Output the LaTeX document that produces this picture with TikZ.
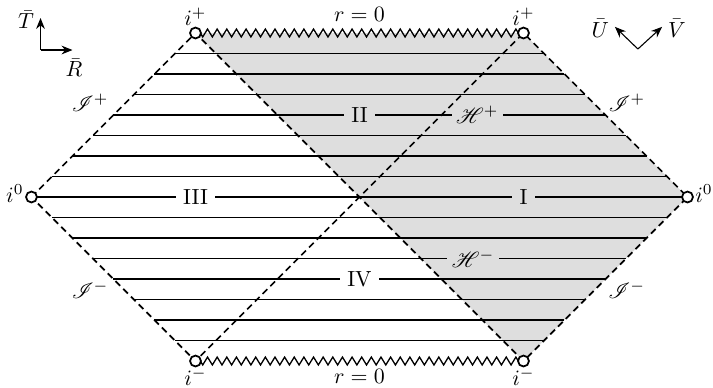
\documentclass[tikz,border=0pt]{standalone}
\usepackage{mathrsfs}
\usetikzlibrary{arrows.meta, positioning, decorations.pathmorphing}
\definecolor{cshade}{HTML}{DEDEDE}
\tikzset{
  every picture/.style={line width=0.55pt},
  horizon/.style={dash pattern=on 3pt off 2pt, line width=0.8pt},
  slice/.style={line width=0.55pt},
  sing/.style={decorate, decoration={zigzag, segment length=4.4pt, amplitude=1.8pt}, line width=0.6pt},
  hole/.style={circle, draw, fill=white, line width=0.8pt, inner sep=0pt, minimum size=5pt},
  tag/.style={fill=#1, inner sep=3.4pt},
  tag/.default=white,
  htag/.style={tag=cshade, inner xsep=2pt},
  axis/.style={-{Stealth[length=5pt, width=4pt]}, line width=0.5pt},
}

\begin{document}
\begin{tikzpicture}[x=0.658cm, y=0.658cm]
  \useasboundingbox (-8.768,-4.634) rectangle (8.622,4.805);
  \coordinate (i0L) at (-8,0);
  \coordinate (i0R) at (8,0);
  \coordinate (iPL) at (-4,4);
  \coordinate (iPR) at (4,4);
  \coordinate (iML) at (-4,-4);
  \coordinate (iMR) at (4,-4);
  \fill[cshade] (iPL) -- (iPR) -- (i0R) -- (iMR) -- cycle;
  \foreach \k in {-7,...,7} {
    \pgfmathsetmacro{\yy}{\k/2}
    \pgfmathsetmacro{\xx}{8-abs(\yy)}
    \draw[slice] (-\xx,\yy) -- (\xx,\yy);
  }
  \node[tag=cshade] (II) at (0,2) {II};
  \node[htag] (Hp) at (2.87,2) {$\mathscr{H}^+$};
  \node[tag] (III) at (-4,0) {III};
  \node[tag=cshade] (I) at (4,0) {I};
  \node[htag] (Hm) at (2.77,-1.5) {$\mathscr{H}^-$};
  \node[tag] (IV) at (0,-2) {IV};
  \draw[horizon] (i0L) -- (iPL) -- (iMR) -- (i0R) -- (iPR) -- (iML) -- cycle;
  \draw[sing] (iPL) -- (iPR);
  \draw[sing] (iML) -- (iMR);
  \path (iPL) -- node[above=1.5pt] (rtop) {$r=0$} (iPR);
  \path (iML) -- node[below=0pt] (rbot) {$r=0$} (iMR);
  \foreach \c in {i0L, i0R, iPL, iPR, iML, iMR} \node[hole] (h\c) at (\c) {};
  \node[above=0pt of iPL] (tPL) {$i^+$};
  \node[above=0pt of iPR] (tPR) {$i^+$};
  \node[below=-0.5pt of iML] (tML) {$i^-$};
  \node[below=-0.5pt of iMR] (tMR) {$i^-$};
  \node[left=0pt of i0L, yshift=1.5pt] (tL) {$i^0$};
  \node[right=0pt of i0R, yshift=1.5pt] (tR) {$i^0$};
  \node (scriPL) at (-6.57,2.29) {$\mathscr{I}^+$};
  \node (scriPR) at (6.52,2.29) {$\mathscr{I}^+$};
  \node (scriML) at (-6.57,-2.27) {$\mathscr{I}^-$};
  \node (scriMR) at (6.52,-2.27) {$\mathscr{I}^-$};
  \coordinate (o) at (-7.78,3.585);
  \coordinate (oT) at (-7.78,4.366);
  \coordinate (oR) at (-7.0,3.585);
  \draw[axis] (o) -- (oT);
  \draw[axis] (o) -- (oR);
  \node (T) at (-8.13,4.32) {$\bar{T}$};
  \node (R) at (-6.96,3.15) {$\bar{R}$};
  \coordinate (v) at (6.79,3.61);
  \coordinate (vU) at (6.23,4.15);
  \coordinate (vV) at (7.38,4.15);
  \draw[axis] (v) -- (vU);
  \draw[axis] (v) -- (vV);
  \node (U) at (5.87,4.12) {$\bar{U}$};
  \node (V) at (7.74,4.12) {$\bar{V}$};
\end{tikzpicture}
\end{document}
